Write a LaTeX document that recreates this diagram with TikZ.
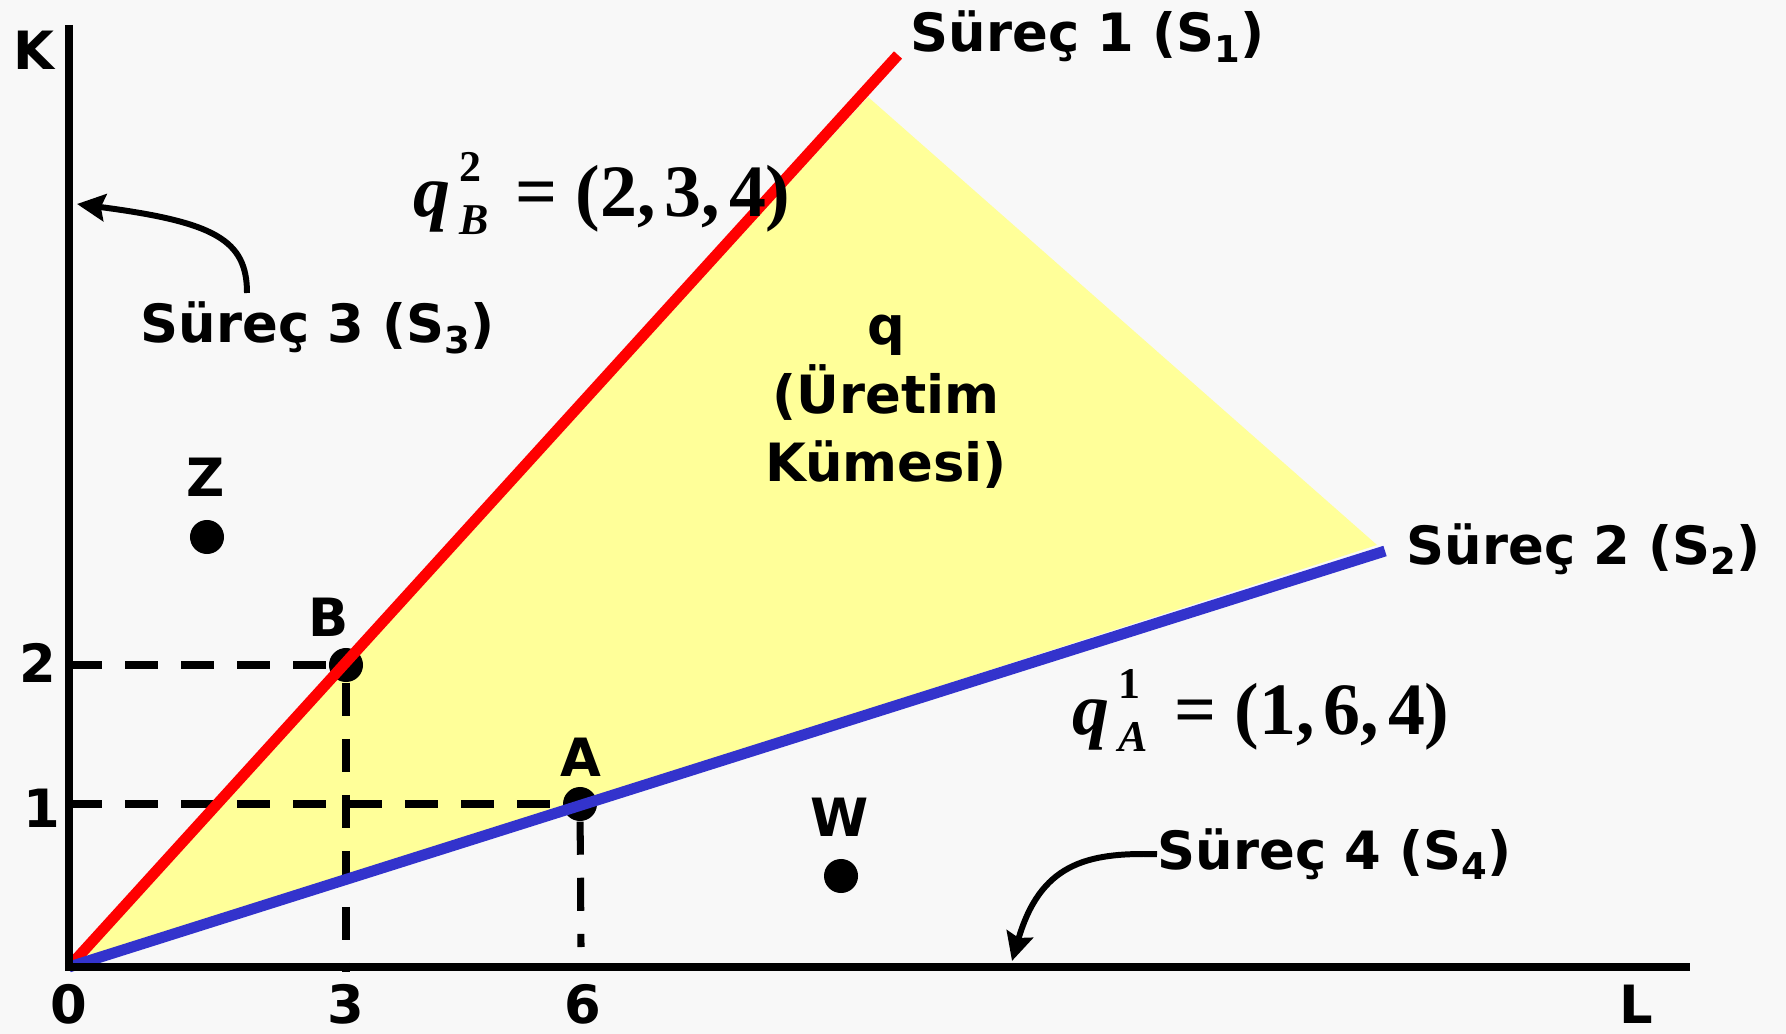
\documentclass[tikz,border=0pt]{standalone}
\usepackage{fontspec}
\setmainfont{DejaVu Sans}
\newfontfamily\timesfont{Liberation Serif}
\usepackage{tikz}
\usetikzlibrary{arrows.meta, calc}
\definecolor{bgpaper}{RGB}{248,248,248}
\definecolor{setyellow}{RGB}{255,255,153}
\definecolor{rayred}{RGB}{255,0,0}
\definecolor{rayblue}{RGB}{51,51,204}
\newcommand{\lblfont}{\fontsize{15}{19.5}\selectfont\bfseries}
\newcommand{\eqfont}{\timesfont\fontsize{21}{25}\selectfont\bfseries}
\newcommand{\surec}[1]{Süreç #1 (S\raisebox{-3pt}{\fontsize{10.5}{11}\selectfont #1})}
\newcommand{\qvec}[3]{{\itshape q}\hspace{0.12em}\rlap{\raisebox{0.48em}{\fontsize{12.5}{12.5}\selectfont #1}}\raisebox{-0.24em}{\fontsize{12.5}{12.5}\selectfont\itshape #2}\hspace{0.36em}=\hspace{0.25em}(#3)}
\tikzset{
  axis/.style={line width=2.1pt, color=black},
  guide/.style={line width=2pt, dash pattern=on 0.33cm off 0.23cm},
  redray/.style={line width=3.1pt, color=rayred},
  blueray/.style={line width=3.1pt, color=rayblue},
  dot/.style={circle, fill=black, inner sep=0pt, minimum size=0.34cm},
  lbl/.style={font=\lblfont, inner sep=0pt},
  eqlbl/.style={font=\eqfont, inner sep=0pt},
  pointer/.style={-{Stealth[length=2.8mm, width=2.7mm, inset=0.4mm]}, line width=1.7pt}
}
\begin{document}
\begin{tikzpicture}[x=0.01cm, y=-0.01cm]
  % Canvas
  \useasboundingbox (0,0) rectangle (1786,1034);
  \fill[bgpaper] (0,0) rectangle (1786,1034);

  % Key points
  \coordinate (O) at (69,967);
  \coordinate (ytop) at (69,25);
  \coordinate (xend) at (1690,967);
  \coordinate (s1end) at (898,55);
  \coordinate (s2end) at (1385,551);
  \coordinate (Bfoot) at (346,972);
  \coordinate (Afoot) at (581,947);

  % Production set
  \fill[setyellow] (O) -- (868,97) -- (1377,545) -- cycle;

  % Points
  \node[dot] (B) at (346,665) {};
  \node[dot] (A) at (580,804) {};
  \node[dot] (Z) at (207,537) {};
  \node[dot] (W) at (841,876) {};

  % Guides to the axes
  \draw[guide] (O |- B) -- (B);
  \draw[guide] (O |- A) -- (A);
  \draw[guide] (B) -- (Bfoot);
  \draw[guide] (A) -- (Afoot);

  % Process rays and axes
  \draw[redray] (O) -- (s1end);
  \draw[blueray] (O) -- (s2end);
  \draw[axis] (ytop) -- (O) -- (xend);

  % Axis and point labels
  \node[lbl] (klbl) at (34,50) {K};
  \node[lbl] (llbl) at (1636,1004) {L};
  \node[lbl] (t0) at (69,1004) {0};
  \node[lbl] (t3) at (346,1004) {3};
  \node[lbl] (t6) at (583,1004) {6};
  \node[lbl] (t2) at (38,663) {2};
  \node[lbl] (t1) at (42,808) {1};
  \node[lbl] (blbl) at (329,617) {B};
  \node[lbl] (albl) at (581,757) {A};
  \node[lbl] (zlbl) at (206,477) {Z};
  \node[lbl] (wlbl) at (840,817) {W};
  \node[lbl, align=center] (setlbl) at (886,402) {q\\(Üretim\\Kümesi)};

  % Process names
  \node[lbl, anchor=base west] (s1) at (910,52) {\surec{1}};
  \node[lbl, anchor=base west] (s2) at (1406,564) {\surec{2}};
  \node[lbl, anchor=base west] (s3) at (140,343) {\surec{3}};
  \node[lbl, anchor=base west] (s4) at (1157,869) {\surec{4}};

  % Input vectors
  \node[eqlbl, anchor=base west] (qB) at (413,217) {\qvec{2}{B}{2,\hspace{0.12em}3,\hspace{0.12em}4}};
  \node[eqlbl, anchor=base west] (qA) at (1072,734) {\qvec{1}{A}{1,\hspace{0.12em}6,\hspace{0.12em}4}};

  % Pointers to the axis processes
  \coordinate (s3tail) at (247,293);
  \coordinate (s3tip) at (77,204);
  \draw[pointer] (s3tail) .. controls (247,240) and (215,222) .. (s3tip);
  \coordinate (s4tip) at (1012,961);
  \draw[pointer] ([yshift=4.2pt]s4.base west) .. controls (1085,852) and (1040,865) .. (s4tip);
\end{tikzpicture}
\end{document}
